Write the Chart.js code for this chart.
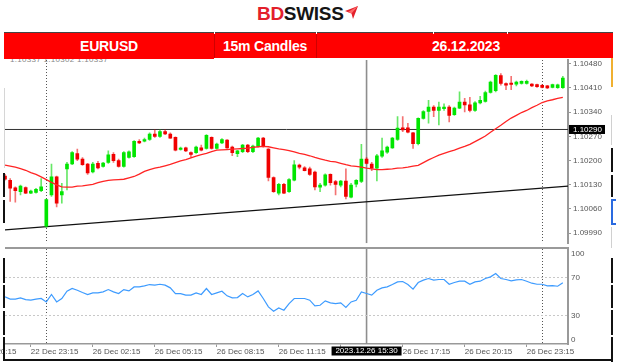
<!DOCTYPE html>
<html lang="en">
  <head>
    <meta charset="UTF-8" />
    <title>EURUSD 15m Candles</title>
    <script src="https://cdn.jsdelivr.net/npm/chart.js"></script>
    <style>
      html, body { margin: 0; padding: 0; background: #fff; }
      body {
        width: 617px; height: 363px; position: relative; overflow: hidden;
        font-family: "Liberation Sans", Arial, sans-serif;
      }
      .abs { position: absolute; }
      #logo { left: 257px; top: 3px; font-size: 19px; font-weight: bold; letter-spacing: -0.3px; }
      #logo .bd { color: #e3202b; }
      #logo .sw { color: #151515; }
      .bar { background: #ff0000; }
      .cell { color: #fff; font-weight: bold; font-size: 14px; text-align: center; top: 38px; letter-spacing: -0.2px; }
      .div { background: #d00000; width: 1px; top: 33px; height: 25px; }
      .seg { background: #111; width: 2px; }
      #ohlc { left: 10px; top: 55px; font-size: 8px; color: #888; letter-spacing: 0.3px; }
    </style>
  </head>
  <body>
    <div id="ohlc" class="abs">1.10337 1.10302 1.10337</div>
    <canvas id="price" class="abs" width="617" height="200" style="left:0;top:50px"></canvas>
    <canvas id="rsi" class="abs" width="617" height="123" style="left:0;top:240px"></canvas>

    <div class="abs" style="left:5px;top:247px;width:564px;height:2px;background:#9a9a9a"></div>

    <div id="logo" class="abs"><span class="bd">BD</span><span class="sw">SWISS</span></div>
    <svg class="abs" style="left:345px;top:6px" width="14" height="14" viewBox="0 0 14 14">
      <polygon points="0,5 13,0 8,13 6.5,7.5" fill="#e3202b" />
      <polygon points="6.5,7.5 13,0 3,6" fill="#ff6a6a" />
    </svg>

    <div class="abs" style="left:4px;top:32px;width:609px;height:1px;background:#444"></div>
    <div class="abs bar" style="left:4px;top:33px;width:609px;height:25px"></div>
    <div class="abs bar" style="left:4px;top:33px;width:210px;height:26px"></div>
    <div class="abs div" style="left:214px"></div>
    <div class="abs div" style="left:316px"></div>
    <div class="abs" style="left:214px;top:32px;width:1px;height:2px;background:#fff"></div>
    <div class="abs" style="left:316px;top:32px;width:1px;height:2px;background:#fff"></div>
    <div class="abs" style="left:433px;top:32px;width:1px;height:2px;background:#fff"></div>
    <div class="abs" style="left:507px;top:32px;width:1px;height:2px;background:#fff"></div>
    <div class="abs cell" style="left:4px;width:210px">EURUSD</div>
    <div class="abs cell" style="left:214px;width:102px">15m Candles</div>
    <div class="abs cell" style="left:318px;width:296px">26.12.2023</div>

    <!-- page frame pieces around the screenshot -->
    <div class="abs" style="left:4px;top:88px;width:1px;height:80px;background:#d6d6d6"></div>
    <div class="abs seg" style="left:3px;top:173px;height:24px"></div>
    <div class="abs seg" style="left:3px;top:200px;height:23px"></div>
    <div class="abs seg" style="left:3px;top:258px;height:25px"></div>
    <div class="abs seg" style="left:3px;top:285px;height:23px"></div>
    <div class="abs seg" style="left:3px;top:311px;height:24px"></div>
    <div class="abs seg" style="left:3px;top:337px;height:24px"></div>
    <div class="abs" style="left:611px;top:58px;width:2px;height:29px;background:#f0b030"></div>
    <div class="abs" style="left:611px;top:115px;width:1px;height:30px;background:#d0d0d0"></div>
    <div class="abs seg" style="left:611px;top:148px;height:24px"></div>
    <div class="abs seg" style="left:611px;top:175px;height:22px"></div>
    <div class="abs" style="left:611px;top:199px;width:5px;height:26px;border:2px solid #2a6ae0;border-right:none;box-sizing:border-box"></div>
    <div class="abs" style="left:611px;top:227px;width:1px;height:21px;background:#d0d0d0"></div>
    <div class="abs seg" style="left:611px;top:258px;height:25px"></div>
    <div class="abs seg" style="left:611px;top:285px;height:23px"></div>
    <div class="abs seg" style="left:611px;top:310px;height:25px"></div>
    <div class="abs seg" style="left:611px;top:337px;height:25px"></div>
    <div class="abs" style="left:4px;top:359px;width:609px;height:2px;background:#111"></div>

    <script>
      // 15m bars, 22 Dec 22:00 .. 27 Dec 01:00 (index = bar number)
      const opens = [1.10155, 1.10143, 1.10121, 1.10110, 1.10122, 1.10106, 1.10108, 1.10113, 1.10010, 1.10101,
        1.10153, 1.10101, 1.10176, 1.10190, 1.10220, 1.10204, 1.10190, 1.10167, 1.10192, 1.10183,
        1.10195, 1.10218, 1.10200, 1.10183, 1.10209, 1.10211, 1.10256, 1.10256, 1.10261, 1.10277,
        1.10270, 1.10284, 1.10277, 1.10267, 1.10232, 1.10237, 1.10223, 1.10223, 1.10237, 1.10235,
        1.10267, 1.10235, 1.10251, 1.10259, 1.10239, 1.10220, 1.10226, 1.10245, 1.10226, 1.10242,
        1.10265, 1.10233, 1.10151, 1.10106, 1.10131, 1.10110, 1.10143, 1.10187, 1.10179, 1.10176,
        1.10167, 1.10123, 1.10129, 1.10160, 1.10139, 1.10129, 1.10141, 1.10094, 1.10132, 1.10140,
        1.10204, 1.10190, 1.10178, 1.10213, 1.10224, 1.10237, 1.10261, 1.10295, 1.10295, 1.10280,
        1.10249, 1.10322, 1.10342, 1.10355, 1.10345, 1.10350, 1.10355, 1.10333, 1.10352, 1.10369,
        1.10361, 1.10345, 1.10367, 1.10371, 1.10397, 1.10402, 1.10446, 1.10423, 1.10423, 1.10421,
        1.10423, 1.10423, 1.10421, 1.10420, 1.10418, 1.10416, 1.10412, 1.10411, 1.10411];
      const highs = [1.10160, 1.10148, 1.10124, 1.10129, 1.10124, 1.10115, 1.10120, 1.10148, 1.10089, 1.10190,
        1.10155, 1.10134, 1.10195, 1.10226, 1.10233, 1.10209, 1.10192, 1.10195, 1.10198, 1.10195,
        1.10228, 1.10223, 1.10204, 1.10226, 1.10228, 1.10258, 1.10261, 1.10265, 1.10280, 1.10289,
        1.10289, 1.10289, 1.10280, 1.10269, 1.10239, 1.10239, 1.10225, 1.10242, 1.10245, 1.10275,
        1.10269, 1.10251, 1.10264, 1.10261, 1.10242, 1.10230, 1.10247, 1.10247, 1.10245, 1.10267,
        1.10267, 1.10235, 1.10153, 1.10134, 1.10134, 1.10148, 1.10200, 1.10190, 1.10183, 1.10181,
        1.10170, 1.10134, 1.10162, 1.10162, 1.10143, 1.10143, 1.10176, 1.10134, 1.10145, 1.10247,
        1.10209, 1.10195, 1.10218, 1.10265, 1.10242, 1.10267, 1.10327, 1.10327, 1.10308, 1.10282,
        1.10324, 1.10345, 1.10374, 1.10359, 1.10369, 1.10364, 1.10359, 1.10355, 1.10399, 1.10380,
        1.10383, 1.10371, 1.10386, 1.10401, 1.10430, 1.10449, 1.10452, 1.10425, 1.10444, 1.10430,
        1.10431, 1.10433, 1.10423, 1.10421, 1.10420, 1.10418, 1.10421, 1.10421, 1.10444];
      const lows = [1.10143, 1.10082, 1.10080, 1.10101, 1.10104, 1.10104, 1.10106, 1.10110, 1.10007, 1.10096,
        1.10066, 1.10077, 1.10115, 1.10188, 1.10200, 1.10186, 1.10160, 1.10164, 1.10176, 1.10181,
        1.10192, 1.10195, 1.10181, 1.10181, 1.10207, 1.10209, 1.10249, 1.10254, 1.10258, 1.10267,
        1.10267, 1.10275, 1.10264, 1.10228, 1.10230, 1.10226, 1.10209, 1.10221, 1.10228, 1.10233,
        1.10233, 1.10233, 1.10249, 1.10235, 1.10214, 1.10211, 1.10223, 1.10223, 1.10223, 1.10239,
        1.10239, 1.10141, 1.10108, 1.10101, 1.10104, 1.10108, 1.10141, 1.10176, 1.10170, 1.10157,
        1.10115, 1.10110, 1.10126, 1.10129, 1.10101, 1.10124, 1.10089, 1.10092, 1.10124, 1.10136,
        1.10190, 1.10171, 1.10141, 1.10209, 1.10221, 1.10235, 1.10258, 1.10284, 1.10280, 1.10235,
        1.10245, 1.10320, 1.10308, 1.10327, 1.10303, 1.10345, 1.10312, 1.10331, 1.10350, 1.10341,
        1.10341, 1.10342, 1.10364, 1.10369, 1.10395, 1.10399, 1.10418, 1.10405, 1.10405, 1.10416,
        1.10421, 1.10421, 1.10414, 1.10412, 1.10410, 1.10408, 1.10410, 1.10409, 1.10409];
      const closes = [1.10146, 1.10120, 1.10113, 1.10126, 1.10106, 1.10112, 1.10117, 1.10124, 1.10087, 1.10153,
        1.10077, 1.10110, 1.10190, 1.10223, 1.10204, 1.10188, 1.10164, 1.10190, 1.10179, 1.10193,
        1.10217, 1.10200, 1.10183, 1.10223, 1.10225, 1.10256, 1.10251, 1.10261, 1.10277, 1.10270,
        1.10284, 1.10277, 1.10265, 1.10230, 1.10235, 1.10228, 1.10218, 1.10239, 1.10230, 1.10273,
        1.10235, 1.10248, 1.10261, 1.10237, 1.10223, 1.10228, 1.10245, 1.10226, 1.10242, 1.10265,
        1.10242, 1.10151, 1.10110, 1.10131, 1.10106, 1.10145, 1.10188, 1.10181, 1.10171, 1.10160,
        1.10124, 1.10129, 1.10159, 1.10136, 1.10131, 1.10141, 1.10096, 1.10129, 1.10143, 1.10204,
        1.10192, 1.10178, 1.10214, 1.10228, 1.10239, 1.10265, 1.10294, 1.10289, 1.10282, 1.10249,
        1.10322, 1.10342, 1.10355, 1.10345, 1.10355, 1.10355, 1.10331, 1.10352, 1.10369, 1.10361,
        1.10345, 1.10367, 1.10374, 1.10397, 1.10427, 1.10447, 1.10423, 1.10418, 1.10420, 1.10427,
        1.10429, 1.10429, 1.10416, 1.10414, 1.10412, 1.10410, 1.10420, 1.10419, 1.10439];
      const ma = [1.10187, 1.10184, 1.10181, 1.10177, 1.10172, 1.10165, 1.10160, 1.10153, 1.10145, 1.10137,
        1.10130, 1.10124, 1.10123, 1.10123, 1.10126, 1.10127, 1.10129, 1.10131, 1.10136, 1.10140,
        1.10143, 1.10144, 1.10145, 1.10146, 1.10150, 1.10154, 1.10161, 1.10169, 1.10174, 1.10178,
        1.10181, 1.10185, 1.10189, 1.10194, 1.10199, 1.10203, 1.10208, 1.10213, 1.10217, 1.10221,
        1.10226, 1.10230, 1.10231, 1.10232, 1.10233, 1.10234, 1.10235, 1.10236, 1.10238, 1.10240,
        1.10241, 1.10240, 1.10237, 1.10234, 1.10232, 1.10229, 1.10225, 1.10221, 1.10218, 1.10214,
        1.10209, 1.10205, 1.10201, 1.10198, 1.10196, 1.10192, 1.10188, 1.10185, 1.10183, 1.10181,
        1.10178, 1.10176, 1.10174, 1.10174, 1.10175, 1.10176, 1.10178, 1.10179, 1.10181, 1.10184,
        1.10186, 1.10194, 1.10202, 1.10209, 1.10216, 1.10221, 1.10226, 1.10230, 1.10236, 1.10241,
        1.10247, 1.10255, 1.10263, 1.10271, 1.10282, 1.10292, 1.10302, 1.10313, 1.10323, 1.10331,
        1.10339, 1.10345, 1.10353, 1.10360, 1.10368, 1.10373, 1.10376, 1.10380, 1.10383];
      const rsi = [49.6, 47.2, 47.2, 48.6, 46.8, 46.1, 47.2, 47.9, 44.3, 52.1,
        44.3, 47.9, 55.6, 58.4, 56.6, 54.2, 52.1, 53.8, 53.8, 54.9,
        57.3, 54.9, 53.1, 57.3, 55.9, 60.1, 60.1, 61.2, 62.6, 61.9,
        62.9, 61.9, 59.1, 53.1, 53.1, 51.4, 51.4, 53.8, 52.1, 58.4,
        52.1, 53.8, 55.6, 50.7, 48.6, 48.9, 53.1, 49.6, 52.1, 55.9,
        47.9, 39.1, 34.5, 38.0, 35.6, 42.6, 47.9, 47.9, 47.9, 46.1,
        40.1, 40.8, 45.4, 43.3, 42.6, 43.3, 38.4, 44.3, 46.1, 54.9,
        53.1, 51.4, 56.6, 59.1, 60.1, 62.6, 65.4, 65.8, 62.6, 57.7,
        64.7, 67.2, 68.9, 67.2, 67.9, 67.9, 62.9, 64.7, 66.1, 66.1,
        62.9, 65.4, 66.1, 68.9, 70.7, 74.2, 68.9, 67.9, 66.5, 67.5,
        67.9, 66.1, 64.0, 62.9, 62.9, 61.2, 61.5, 60.8, 64.5];

      const tickLabels = ['22 Dec 20:15', '22 Dec 23:15', '26 Dec 02:15', '26 Dec 05:15', '26 Dec 08:15',
        '26 Dec 11:15', '26 Dec 14:15', '26 Dec 17:15', '26 Dec 20:15', '26 Dec 23:15'];
      const tickBars = [-7, 5, 17, 29, 41, 53, 65, 77, 89, 101];
      const priceTicks = [1.09990, 1.10060, 1.10130, 1.10200, 1.10270, 1.10340, 1.10410, 1.10480];
      const rsiTicks = [100, 70, 30, 0];
      const rsiLevels = [30, 70];
      const dayBreaks = [8, 104];
      const cursorBar = 70;
      const cursorLabel = '2023.12.26 15:30';
      const markPrice = 1.10290;
      const trendStart = [-0.5, 1.09999];
      const trendEnd = [109, 1.10126];

      const X_MIN = 0, X_MAX = 109;
      const FONT = '8px "Liberation Sans", Arial, sans-serif';

      Chart.defaults.font.family = '"Liberation Sans", Arial, sans-serif';
      Chart.defaults.font.size = 8;
      Chart.defaults.color = '#555';

      const overlay = {
        id: 'overlay',
        beforeDatasetsDraw(chart) {
          const {ctx, chartArea: a, scales: {x}} = chart;
          ctx.save();
          ctx.beginPath();
          ctx.rect(a.left, a.top, a.right - a.left, a.bottom - a.top);
          ctx.clip();
          ctx.strokeStyle = '#555';
          ctx.lineWidth = 1;
          ctx.setLineDash([1, 2]);
          for (const k of dayBreaks) {
            const px = Math.round(x.getPixelForValue(k)) + 0.5;
            ctx.beginPath(); ctx.moveTo(px, a.top); ctx.lineTo(px, a.bottom); ctx.stroke();
          }
          ctx.setLineDash([]);
          ctx.strokeStyle = '#8e8e8e';
          ctx.lineWidth = 1.6;
          const cx = x.getPixelForValue(cursorBar);
          ctx.beginPath(); ctx.moveTo(cx, a.top); ctx.lineTo(cx, a.bottom); ctx.stroke();
          ctx.restore();
        },
        afterDraw(chart, args, opts) {
          const {ctx, chartArea: a, scales: {x, y}} = chart;
          ctx.save();
          ctx.font = FONT;
          ctx.textBaseline = 'middle';
          if (opts.priceBox) {
            const py = y.getPixelForValue(markPrice);
            ctx.fillStyle = '#000';
            ctx.fillRect(a.right + 1, py - 4.5, 36, 9);
            ctx.fillStyle = '#fff';
            ctx.textAlign = 'left';
            ctx.fillText(markPrice.toFixed(5), a.right + 5, py);
          }
          if (opts.rsiLabels) {
            ctx.fillStyle = '#555';
            ctx.textAlign = 'left';
            for (const v of rsiTicks) {
              const py = Math.min(Math.max(y.getPixelForValue(v), a.top + 4.5), a.bottom - 4);
              ctx.fillText(String(v), a.right + 3, py);
            }
          }
          if (opts.timeBox) {
            const cx = x.getPixelForValue(cursorBar);
            ctx.fillStyle = '#000';
            ctx.fillRect(cx - 35, a.bottom + 2.5, 70, 9);
            ctx.fillStyle = '#fff';
            ctx.textAlign = 'center';
            ctx.fillText(cursorLabel, cx, a.bottom + 7);
          }
          ctx.restore();
        }
      };

      const up = closes.map((c, i) => c >= opens[i]);
      const bodyColors = up.map(u => (u ? '#00e600' : '#f00000'));
      const wickColors = up.map(u => (u ? 'rgba(0,215,0,0.6)' : 'rgba(235,0,0,0.55)'));

      new Chart(document.getElementById('price'), {
        type: 'bar',
        data: {
          datasets: [
            {
              type: 'line',
              data: ma.map((v, i) => ({x: i, y: v})),
              borderColor: '#ff2424',
              borderWidth: 1.3,
              pointRadius: 0,
              order: 0
            },
            {
              data: opens.map((o, i) => ({x: i, y: [o, closes[i]]})),
              backgroundColor: bodyColors,
              barThickness: 3,
              minBarLength: 1.5,
              grouped: false,
              order: 1
            },
            {
              data: lows.map((l, i) => ({x: i, y: [l, highs[i]]})),
              backgroundColor: wickColors,
              barThickness: 1,
              grouped: false,
              order: 2
            },
            {
              type: 'line',
              data: [{x: trendStart[0], y: trendStart[1]}, {x: trendEnd[0], y: trendEnd[1]}],
              borderColor: '#111',
              borderWidth: 1.3,
              pointRadius: 0,
              order: 3
            },
            {
              type: 'line',
              data: [{x: X_MIN, y: markPrice}, {x: X_MAX, y: markPrice}],
              borderColor: '#333',
              borderWidth: 1,
              pointRadius: 0,
              order: 4
            }
          ]
        },
        options: {
          responsive: false,
          animation: false,
          layout: {padding: {left: 5, top: 10, right: 0, bottom: 2}},
          plugins: {legend: {display: false}, tooltip: {enabled: false}, overlay: {priceBox: true}},
          scales: {
            x: {type: 'linear', min: X_MIN, max: X_MAX, offset: false, display: false},
            y: {
              position: 'right',
              min: 1.09961,
              max: 1.10491,
              afterBuildTicks: s => { s.ticks = priceTicks.map(v => ({value: v})); },
              afterFit: s => { s.width = 49; },
              ticks: {callback: v => v.toFixed(5), padding: 2, color: '#555'},
              grid: {drawOnChartArea: false, tickLength: 3, color: '#999'},
              border: {color: '#999', width: 2}
            }
          }
        },
        plugins: [overlay]
      });

      new Chart(document.getElementById('rsi'), {
        type: 'line',
        data: {
          datasets: [
            {
              data: rsi.map((v, i) => ({x: i, y: v})),
              borderColor: '#3d9bff',
              borderWidth: 1.2,
              pointRadius: 0,
              order: 0
            },
            ...rsiLevels.map(lv => ({
              data: [{x: X_MIN, y: lv}, {x: X_MAX, y: lv}],
              borderColor: '#c8c8c8',
              borderWidth: 1,
              borderDash: [2, 2],
              pointRadius: 0,
              order: 1
            }))
          ]
        },
        options: {
          responsive: false,
          animation: false,
          layout: {padding: {left: 5, top: 9, right: 0, bottom: 0}},
          plugins: {legend: {display: false}, tooltip: {enabled: false}, overlay: {rsiLabels: true, timeBox: true}},
          scales: {
            x: {
              type: 'linear',
              min: X_MIN,
              max: X_MAX,
              offset: false,
              afterBuildTicks: s => { s.ticks = tickBars.map(v => ({value: v})); },
              afterFit: s => { s.height = 19; s.paddingLeft = 0; s.paddingRight = 0; },
              ticks: {
                autoSkip: false,
                maxRotation: 0,
                align: 'start',
                padding: 0,
                color: '#555',
                callback: v => tickLabels[tickBars.indexOf(v)]
              },
              grid: {drawOnChartArea: false, tickLength: 3, color: '#999'},
              border: {color: '#999', width: 1.5}
            },
            y: {
              position: 'right',
              min: 0,
              max: 100,
              afterFit: s => { s.width = 49; },
              ticks: {display: false},
              grid: {display: false},
              border: {color: '#999', width: 2}
            }
          }
        },
        plugins: [overlay]
      });
    </script>
  </body>
</html>
